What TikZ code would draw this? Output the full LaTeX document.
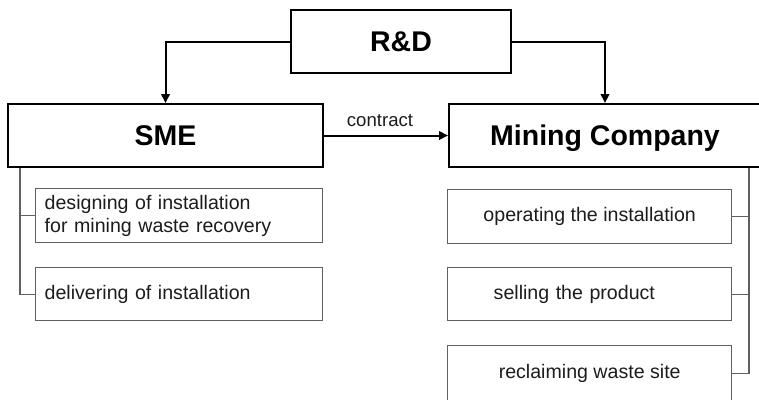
\documentclass[tikz,border=0pt]{standalone}
\usepackage{fontspec}
\setmainfont{Liberation Sans}
\usetikzlibrary{arrows.meta,calc}
\definecolor{framegray}{HTML}{606060}
\definecolor{textgray}{HTML}{1C1C1C}
\begin{document}
\begin{tikzpicture}[x=1pt,y=-1pt,
  mainbox/.style={draw=black,line width=2pt,inner sep=0pt,anchor=north west,
    font=\fontsize{28.5}{32}\selectfont\bfseries,minimum height=63pt,
    text height=20pt,text depth=0pt},
  subbox/.style={draw=framegray,line width=1.4pt,inner sep=0pt,anchor=north west,
    font=\fontsize{19.6}{22.5}\selectfont,text=textgray},
  link/.style={draw=black,line width=2pt,-{Triangle[length=9pt,width=8.5pt]}},
  branch/.style={draw=framegray,line width=1.4pt}]
\useasboundingbox (0,0) rectangle (759,399);

% top-level boxes
\node[mainbox,minimum width=220pt] (rd) at (290,9) {R\&D};
\node[mainbox,minimum width=315pt] (sme) at (7,103) {SME};
\node[mainbox,minimum width=312pt] (mc) at (448,103) {Mining Company};

% SME tasks
\node[subbox,text width=269pt,inner xsep=9pt,align=left,minimum height=54pt] (d1) at (35,188)
  {designing of installation\\for mining waste recovery};
\node[subbox,text width=269pt,inner xsep=9pt,align=left,minimum height=53pt] (d2) at (35,267)
  {delivering of installation};

% mining company tasks
\node[subbox,minimum width=284pt,minimum height=54pt] (o1) at (447,189) {operating the installation};
\node[subbox,text width=192pt,inner xsep=46pt,align=left,minimum height=53pt] (o2) at (447,267) {selling the product};
\node[subbox,minimum width=284pt,minimum height=56pt] (o3) at (447,345) {reclaiming waste site};

% flows
\draw[link] (rd.west) -| (sme.north);
\draw[link] (rd.east) -| (mc.north);
\draw[link] (sme.east) -- (mc.west);
\node[font=\fontsize{18.6}{20}\selectfont,text=textgray,inner sep=0pt] (ct) at (380,121) {contract};

% task trees
\coordinate (sl) at ($(sme.south west)+(13,0)$);
\coordinate (ml) at ($(mc.south east)+(-13,0)$);
\draw[branch] (sl) |- (d2.west);
\draw[branch] (sl |- d1.west) -- (d1.west);
\draw[branch] (ml) |- (o3.east);
\draw[branch] (ml |- o1.east) -- (o1.east);
\draw[branch] (ml |- o2.east) -- (o2.east);
\end{tikzpicture}
\end{document}
